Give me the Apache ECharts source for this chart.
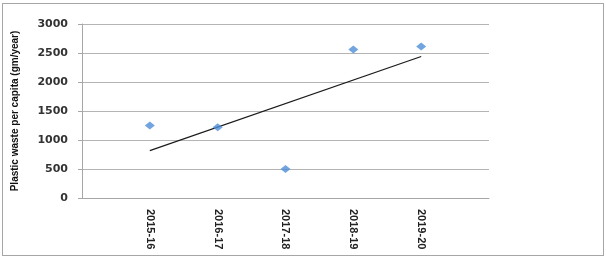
<!DOCTYPE html>
<html><head><meta charset="utf-8">
<script src="https://cdn.jsdelivr.net/npm/echarts@6/dist/echarts.min.js"></script>
<style>
html,body{margin:0;padding:0;background:#fff;}
#frame{position:absolute;left:2px;top:3px;width:600px;height:251px;border:1px solid #a6a6a6;}
#c{position:absolute;left:0;top:0;width:606px;height:257px;}
</style></head>
<body>
<div id="frame"></div>
<div id="c"></div>
<script>
const categories = ['2015-16','2016-17','2017-18','2018-19','2019-20'];
const wasteValues = [1250, 1220, 500, 2560, 2610];
const yTicks = [0, 500, 1000, 1500, 2000, 2500, 3000];

// linear trendline (least squares) through the points, like the spreadsheet trendline
const xs = categories.map((_, i) => i + 1);
const n = xs.length;
const mx = xs.reduce((a, b) => a + b, 0) / n;
const my = wasteValues.reduce((a, b) => a + b, 0) / n;
let sxy = 0, sxx = 0;
xs.forEach((x, i) => { sxy += (x - mx) * (wasteValues[i] - my); sxx += (x - mx) * (x - mx); });
const slope = sxy / sxx, icpt = my - slope * mx;
const trend = [[xs[0], icpt + slope * xs[0]], [xs[n - 1], icpt + slope * xs[n - 1]]];

const chart = echarts.init(document.getElementById('c'));
chart.setOption({
  animation: false,
  grid: { left: 82, right: 117, top: 24, bottom: 59 },
  xAxis: {
    type: 'value', min: 0, max: categories.length + 1, interval: 1,
    axisLine: { show: true, lineStyle: { color: '#a6a6a6', width: 1 } },
    axisTick: { show: false },
    splitLine: { show: false },
    axisLabel: {
      rotate: -90, margin: 11, color: '#222', fontSize: 11,
      fontFamily: 'Liberation Sans', fontWeight: 'bold',
      formatter: v => categories[v - 1] || ''
    }
  },
  yAxis: {
    type: 'value', min: yTicks[0], max: yTicks[yTicks.length - 1], interval: 500,
    name: 'Plastic waste per capita (gm/year)',
    nameLocation: 'middle', nameGap: 62, nameRotate: 90,
    nameTextStyle: { color: '#111', fontSize: 10, fontWeight: 'bold', fontFamily: 'Liberation Sans' },
    axisLine: { show: true, lineStyle: { color: '#a6a6a6', width: 1 } },
    axisTick: { show: true, length: 4, lineStyle: { color: '#a6a6a6' } },
    splitLine: { show: true, lineStyle: { color: '#b4b4b4', width: 1 } },
    axisLabel: { color: '#333', fontSize: 11, fontWeight: 'bold', fontFamily: 'DejaVu Sans', margin: 14, formatter: v => String(v) }
  },
  series: [
    {
      type: 'line', data: trend, symbol: 'none',
      lineStyle: { color: '#1a1a1a', width: 1.2 }, z: 2
    },
    {
      type: 'scatter',
      data: wasteValues.map((v, i) => [xs[i], v]),
      symbol: 'diamond', symbolSize: [10, 8],
      itemStyle: { color: '#4f8fd8' }, z: 3
    }
  ]
});
</script>
</body></html>
